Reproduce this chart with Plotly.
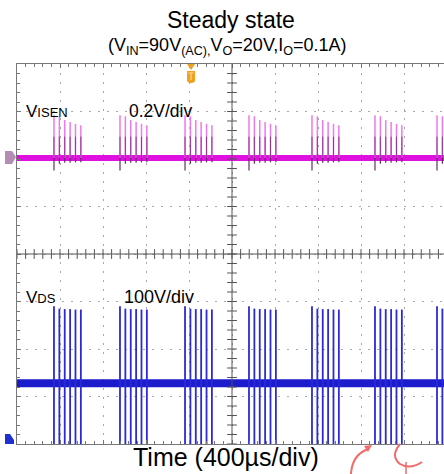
import numpy as np
import plotly.graph_objects as go

# ---------------- data (read from the scope capture) ----------------
burst_start_us = [344, 958, 1563, 2158, 2744, 3330, 3907]   # burst onset times
pulse_spacing_us = 50                                       # spacing of pulses in a burst
visen_base_div = 2.02                                       # VISEN trace baseline (div)
visen_peak_div = [2.92, 2.90, 2.82, 2.78, 2.74, 2.71]       # VISEN spike tops
visen_dip_div = [1.76, 1.90, 1.92, 1.92, 1.93, 1.93]        # VISEN negative spikes
vds_base_div = -2.72                                        # VDS baseline (div)
vds_peak_div = [-1.10, -1.15, -1.16, -1.16, -1.17, -1.17]   # VDS pulse tops
vds_trough_div = [-4.3, -4.3, -4.3, -4.3, -4.3, -4.3]       # VDS pulse bottoms (clipped)
trigger_us = 1619
time_per_div_us = 400
x_view_us = [0, 3972]
y_view_div = [-4, 4]

FONT = "Liberation Sans, Arial, sans-serif"
L, T, W, H = 17, 64, 427, 380


def spikes(starts, base, tips):
    xs, ys = [], []
    for b in starts:
        for k, tip in enumerate(tips):
            t = b + k * pulse_spacing_us
            xs += [t, t, None]
            ys += [base, tip, None]
    return xs, ys


fig = go.Figure()

# baselines
fig.add_trace(go.Scatter(x=x_view_us, y=[visen_base_div] * 2, mode="lines",
                         line=dict(color="#e010e0", width=6), hoverinfo="skip"))
fig.add_trace(go.Scatter(x=x_view_us, y=[vds_base_div] * 2, mode="lines",
                         line=dict(color="#1c1ccc", width=8), hoverinfo="skip"))

# VISEN spikes
x, y = spikes(burst_start_us, visen_base_div, visen_peak_div)
fig.add_trace(go.Scatter(x=x, y=y, mode="lines", line=dict(color="#ee78ee", width=1.5),
                         hoverinfo="skip"))
x, y = spikes(burst_start_us, visen_base_div, [visen_base_div + 0.45] * 6)
fig.add_trace(go.Scatter(x=x, y=y, mode="lines", line=dict(color="#8c3a8c", width=1),
                         hoverinfo="skip"))
x, y = spikes(burst_start_us, visen_base_div, visen_dip_div)
fig.add_trace(go.Scatter(x=x, y=y, mode="lines", line=dict(color="#6a2a6a", width=1.2),
                         hoverinfo="skip"))

# VDS pulses
x, y = spikes(burst_start_us, vds_base_div, vds_peak_div)
fig.add_trace(go.Scatter(x=x, y=y, mode="lines", line=dict(color="#2a2ad8", width=1.8),
                         hoverinfo="skip"))
x, y = spikes(burst_start_us, vds_base_div, vds_trough_div)
fig.add_trace(go.Scatter(x=x, y=y, mode="lines", line=dict(color="#2a2ad8", width=1.8),
                         hoverinfo="skip"))

# centre cross ticks
fig.add_trace(go.Scatter(x=np.arange(0, 4000, time_per_div_us / 5), y=[0] * 50,
                         mode="markers", marker=dict(symbol="line-ns", size=7,
                         line=dict(color="#555", width=1)), hoverinfo="skip"))
fig.add_trace(go.Scatter(x=[2000] * 40, y=np.arange(-4, 4, 0.2),
                         mode="markers", marker=dict(symbol="line-ew", size=7,
                         line=dict(color="#555", width=1)), hoverinfo="skip"))

fig.add_shape(type="line", xref="x", yref="y", x0=0, x1=4000, y0=0, y1=0,
              line=dict(color="#555", width=1))
fig.add_shape(type="line", xref="x", yref="y", x0=2000, x1=2000, y0=-4, y1=4,
              line=dict(color="#555", width=1))


def P(X, Y):
    return f"{(X - L) / W:.5f},{(T + H - Y) / H:.5f}"


def pshape(path, fill=None, line=None, width=0):
    fig.add_shape(type="path", xref="paper", yref="paper", path=path,
                  fillcolor=fill if fill else "rgba(0,0,0,0)",
                  line=dict(color=line if line else "rgba(0,0,0,0)", width=width),
                  layer="above")


# channel markers
pshape(f"M{P(5,151)} L{P(12,151)} L{P(16,157)} L{P(12,164)} L{P(5,164)} Z", fill="#b38db3")
pshape(f"M{P(5,434)} L{P(10,434)} L{P(14,440)} L{P(14,444)} L{P(5,444)} Z", fill="#2030d0")
# trigger marker
tx = L + W * (trigger_us - x_view_us[0]) / (x_view_us[1] - x_view_us[0])
pshape(f"M{P(tx-4,64)} L{P(tx+4,64)} L{P(tx,70)} Z", fill="#f0a020")
pshape(f"M{P(tx-4,71)} L{P(tx+4,71)} L{P(tx+4,80)} Q{P(tx+4,83)} {P(tx,83)} "
       f"Q{P(tx-4,83)} {P(tx-4,80)} Z", fill="#f0a020")
pshape(f"M{P(tx-2.5,73)} L{P(tx+2.5,73)} M{P(tx,73)} L{P(tx,80)}", line="#ffe0a0", width=1)

# watermark fragments (bottom right)
pshape(f"M{P(368,449)} Q{P(352,455)} {P(351,474)}", line="#f26a6a", width=2)
pshape(f"M{P(372,445)} L{P(364,446)} L{P(368,452)} Z", fill="#f26a6a")
pshape(f"M{P(400,444)} Q{P(390,456)} {P(400,464)} Q{P(410,470)} {P(422,462)}",
       line="#f26a6a", width=2)
pshape(f"M{P(406,462)} L{P(406,474)}", line="#f26a6a", width=1.5)

axis_common = dict(showgrid=True, gridcolor="#a8a8a8", griddash="2px,7px", gridwidth=1,
                   showticklabels=False, zeroline=False, showline=True, linecolor="#777",
                   ticks="inside", ticklen=4, tickcolor="#777")
fig.update_xaxes(range=x_view_us, dtick=time_per_div_us, tick0=0, mirror="ticks",
                 minor=dict(dtick=time_per_div_us / 5, ticks="inside", ticklen=3,
                            tickcolor="#777", showgrid=False), **axis_common)
fig.update_yaxes(range=y_view_div, dtick=1, tick0=0, mirror=False,
                 minor=dict(dtick=0.2, ticks="inside", ticklen=3, tickcolor="#777",
                            showgrid=False), **axis_common)


def label(text, X, Y, size, anchor="center"):
    fig.add_annotation(text=text, x=(X - L) / W, y=(T + H - Y) / H, xref="paper",
                       yref="paper", xanchor=anchor, yanchor="middle", showarrow=False,
                       font=dict(family=FONT, size=size, color="black"))


label("Steady state", 231, 20, 23)
label("(V<sub>IN</sub>=90V<sub>(AC),</sub>V<sub>O</sub>=20V,I<sub>O</sub>=0.1A)", 227, 47, 18)
label("Time (400µs/div)", 226, 457, 25)
label("V<span style='font-size:13px'>ISEN</span>", 24, 111, 17, "left")
label("0.2V/div", 127, 111, 17.5, "left")
label("V<span style='font-size:13px'>DS</span>", 24, 297, 17, "left")
label("100V/div", 122, 297, 18, "left")

fig.update_layout(width=444, height=474, margin=dict(l=L, r=0, t=T, b=474 - T - H),
                  plot_bgcolor="white", paper_bgcolor="white", showlegend=False)

fig.write_html("out.html")
